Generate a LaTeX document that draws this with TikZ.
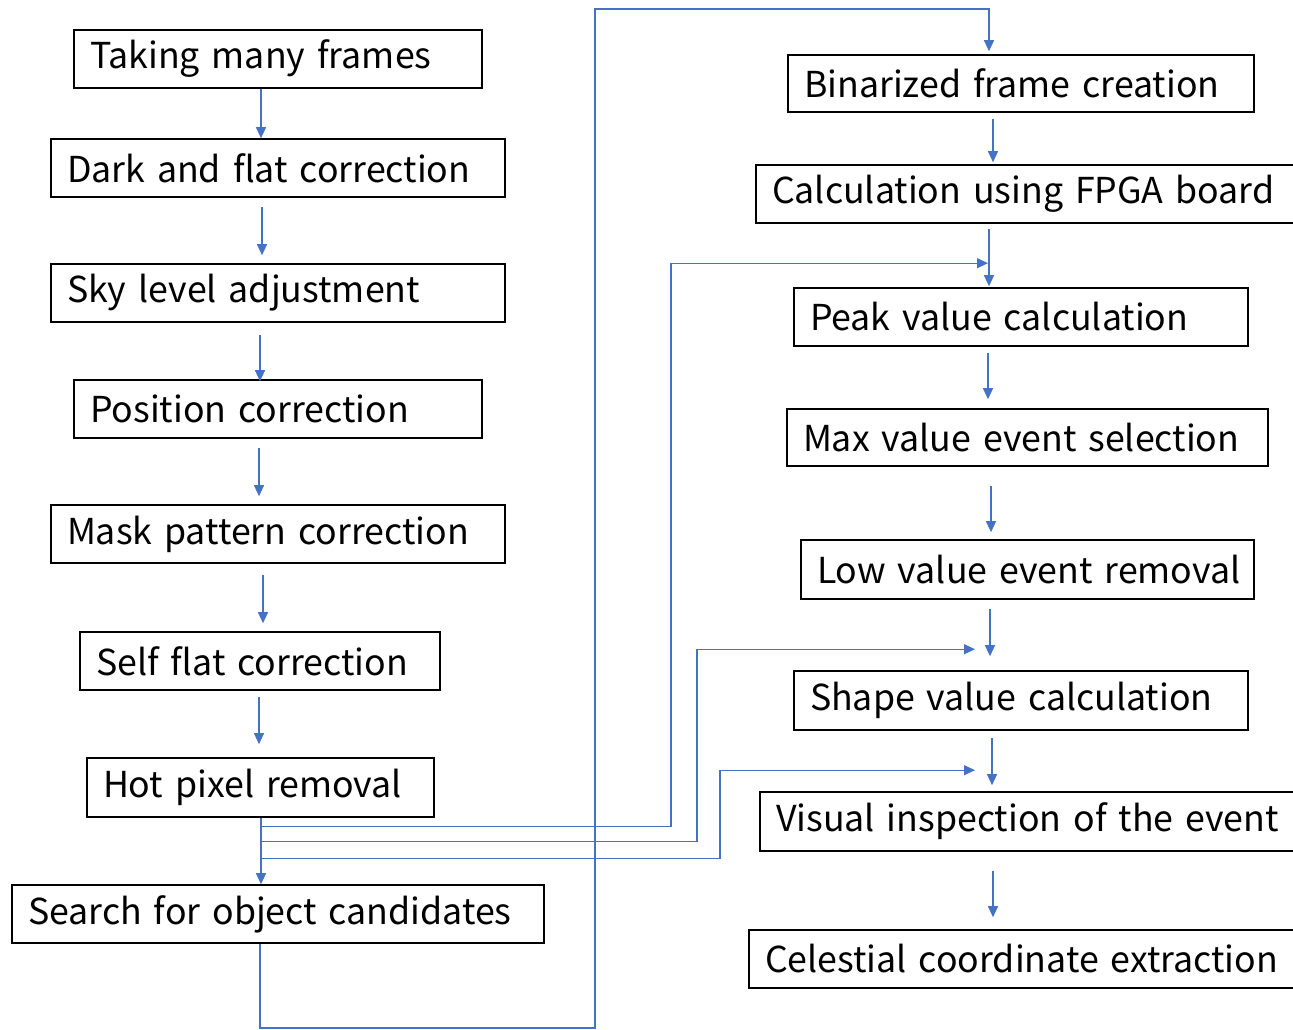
\documentclass[tikz,border=0pt]{standalone}
\usepackage{fontspec}
\setmainfont{Noto Sans CJK JP}
\usetikzlibrary{arrows.meta,calc}
\definecolor{linkblue}{HTML}{4472C4}
\begin{document}
\begin{tikzpicture}[x=1pt,y=-1pt,
  pbox/.style={draw=black, line width=1.6pt, inner xsep=16pt, inner ysep=0pt,
    minimum height=58pt, align=left, font=\fontsize{35.7}{42}\selectfont},
  conn/.style={draw=linkblue, line width=1.2pt},
  arr/.style={conn, -{Triangle[length=11pt,width=10pt]}}]
\useasboundingbox (0,0) rectangle (1293,1030);
% left column
\node[pbox, text width=376pt] (L1) at (278,59) {\mbox{Taking many frames}};
\node[pbox, text width=422pt] (L2) at (278,168) {\mbox{Dark and flat correction}};
\node[pbox, text width=422pt] (L3) at (278,293) {\mbox{Sky level adjustment}};
\node[pbox, text width=376pt] (L4) at (278,409) {\mbox{Position correction}};
\node[pbox, text width=422pt] (L5) at (278,534) {\mbox{Mask pattern correction}};
\node[pbox, text width=328pt] (L6) at (260,661) {\mbox{Self flat correction}};
\node[pbox, text width=315pt, minimum height=59pt] (L7) at (260.5,787.5) {\mbox{Hot pixel removal}};
\node[pbox, text width=500pt] (L8) at (278,914) {\mbox{Search for object candidates}};
% right column
\node[pbox, text width=434pt, minimum height=57pt] (R1) at (1021,83.5) {\mbox{Binarized frame creation}};
\node[pbox, text width=508pt] (R2) at (1026,194) {\mbox{Calculation using FPGA board}};
\node[pbox, text width=422pt] (R3) at (1021,317) {\mbox{Peak value calculation}};
\node[pbox, text width=449pt, minimum height=57pt] (R4) at (1027.5,437.5) {\mbox{Max value event selection}};
\node[pbox, text width=421pt, minimum height=59pt] (R5) at (1027.5,569.5) {\mbox{Low value event removal}};
\node[pbox, text width=422pt, minimum height=59pt] (R6) at (1021,700.5) {\mbox{Shape value calculation}};
\node[pbox, text width=504pt, minimum height=59pt] (R7) at (1028,821.5) {\mbox{Visual inspection of the event}};
\node[pbox, text width=515pt] (R8) at (1022.5,959) {\mbox{Celestial coordinate extraction}};
% left arrows
\draw[arr] (L1.south -| 261,0) -- (L2.north -| 261,0);
\draw[arr] ($(L2.south -| 262,0)+(0,9)$) -- ($(L3.north -| 262,0)+(0,-8)$);
\draw[arr] ($(L3.south -| 260,0)+(0,12)$) -- ($(L4.north -| 260,0)+(0,2)$);
\draw[arr] ($(L4.south -| 259,0)+(0,9)$) -- ($(L5.north -| 259,0)+(0,-8)$);
\draw[arr] ($(L5.south -| 263,0)+(0,11)$) -- ($(L6.north -| 263,0)+(0,-8)$);
\draw[arr] ($(L6.south -| 259,0)+(0,6)$) -- ($(L7.north -| 259,0)+(0,-13)$);
\draw[arr] (L7.south -| 261,0) -- (L8.north -| 261,0);
% right arrows
\draw[arr] ($(R1.south -| 993,0)+(0,6)$) -- ($(R2.north -| 993,0)+(0,-2)$);
\draw[arr] ($(R2.south -| 989,0)+(0,5)$) -- ($(R3.north -| 989,0)+(0,-1)$);
\draw[arr] ($(R3.south -| 988,0)+(0,6)$) -- ($(R4.north -| 988,0)+(0,-9)$);
\draw[arr] ($(R4.south -| 991,0)+(0,19)$) -- ($(R5.north -| 991,0)+(0,-7)$);
\draw[arr] ($(R5.south -| 990,0)+(0,9)$) -- ($(R6.north -| 990,0)+(0,-14)$);
\draw[arr] ($(R6.south -| 992,0)+(0,7)$) -- ($(R7.north -| 992,0)+(0,-6)$);
\draw[arr] ($(R7.south -| 993,0)+(0,19)$) -- ($(R8.north -| 993,0)+(0,-12)$);
% branch connectors from hot pixel removal
\coordinate (t3) at ($(R3.north -| 988,0)+(0,-24)$);
\coordinate (t6) at ($(R6.north -| 975,0)+(0,-21)$);
\coordinate (t7) at ($(R7.north -| 975,0)+(0,-21)$);
\draw[arr] ($(L7.south -| 261,0)+(0,9)$) -- ($(L7.south -| 671,0)+(0,9)$) |- (t3);
\draw[arr] ($(L7.south -| 261,0)+(0,24)$) -- ($(L7.south -| 697,0)+(0,24)$) |- (t6);
\draw[arr] ($(L7.south -| 261,0)+(0,41)$) -- ($(L7.south -| 720,0)+(0,41)$) |- (t7);
% search -> binarized
\draw[arr] (L8.south -| 260,0) |- (595,1028) |- (989,9) -- ($(R1.north -| 989,0)+(0,-3)$);
\end{tikzpicture}
\end{document}
